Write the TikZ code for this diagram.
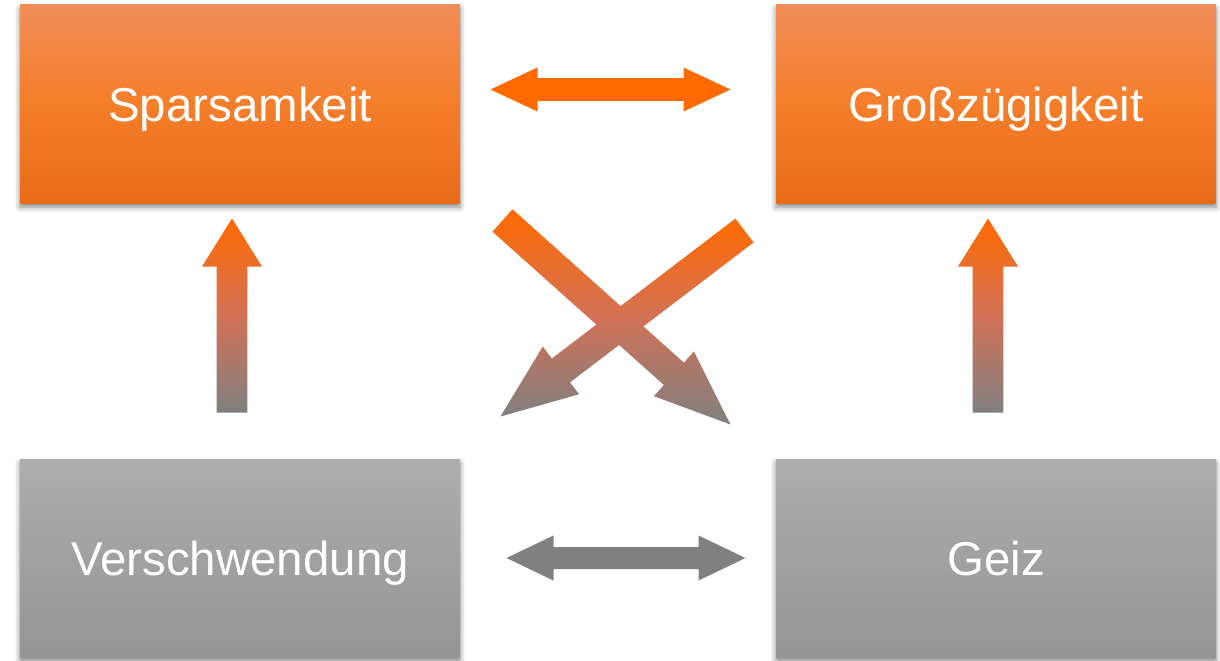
\documentclass[tikz,border=0pt]{standalone}
\usepackage{fontspec}
\setmainfont{Liberation Sans}
\usetikzlibrary{calc,shadows.blur}

\definecolor{arrorange}{RGB}{255,106,0}
\definecolor{arrmid}{RGB}{210,113,86}
\definecolor{arrgray}{RGB}{128,128,128}
\definecolor{boxorangetop}{RGB}{240,141,88}
\definecolor{boxorangemid}{RGB}{245,126,42}
\definecolor{boxorangebot}{RGB}{232,107,24}
\definecolor{boxgraytop}{RGB}{173,173,173}
\definecolor{boxgraybot}{RGB}{149,149,149}

\tikzset{every picture/.style={line width=0.75pt}}
\tikzset{
  termbox/.style={rectangle, inner sep=0pt, minimum width=330pt, minimum height=148.5pt,
    text=white, text depth=0pt, font=\fontsize{35.6}{40}\selectfont,
    blur shadow={shadow xshift=0pt, shadow yshift=-3pt, shadow blur radius=4pt, shadow opacity=50}},
  orangebox/.style={termbox, top color=boxorangetop, bottom color=boxorangebot, middle color=boxorangemid},
  graybox/.style={termbox, top color=boxgraytop, bottom color=boxgraybot},
  flatorange/.style={fill=arrorange},
  flatgray/.style={fill=arrgray},
  fadearrow/.style={top color=arrorange, bottom color=arrgray, middle color=arrmid},
}

% block arrow: style, from, to, shaft half width, head half width, head length
\newcommand\blockarrow[6]{%
  \coordinate (hb) at ($(#3)!#6!(#2)$);
  \path[#1] ($(#2)!#4!90:(#3)$) -- ($(hb)!#4!90:(#3)$) -- ($(hb)!#5!90:(#3)$)
    -- (#3) -- ($(hb)!#5!-90:(#3)$) -- ($(hb)!#4!-90:(#3)$) -- ($(#2)!#4!-90:(#3)$) -- cycle;}
% double block arrow, same arguments
\newcommand\dblarrow[6]{%
  \coordinate (hba) at ($(#2)!#6!(#3)$);
  \coordinate (hbb) at ($(#3)!#6!(#2)$);
  \path[#1] (#2) -- ($(hba)!#5!90:(#3)$) -- ($(hba)!#4!90:(#3)$) -- ($(hbb)!#4!90:(#3)$)
    -- ($(hbb)!#5!90:(#3)$) -- (#3) -- ($(hbb)!#5!-90:(#3)$) -- ($(hbb)!#4!-90:(#3)$)
    -- ($(hba)!#4!-90:(#3)$) -- ($(hba)!#5!-90:(#3)$) -- cycle;}

\begin{document}
\begin{tikzpicture}[x=0.75pt,y=0.75pt,yscale=-1,xscale=1]
\useasboundingbox (0,0) rectangle (1220,660);

%Boxes
\node[orangebox] (spar) at (240,104) {Sparsamkeit};
\node[orangebox] (gross) at (996,104) {Großzügigkeit};
\node[graybox] (versch) at (240,558) {Verschwendung};
\node[graybox] (geiz) at (996,558) {Geiz};

%Arrow ends
\coordinate (topl) at ($(spar.east)+(30,-14.5)$);
\coordinate (topr) at ($(gross.west)+(-45,-14.5)$);
\coordinate (botl) at ($(versch.east)+(46,0)$);
\coordinate (botr) at ($(geiz.west)+(-30,0)$);
\coordinate (vlfrom) at ($(versch.north)+(-8,-46)$);
\coordinate (vlto) at ($(spar.south)+(-8,15)$);
\coordinate (vrfrom) at ($(geiz.north)+(-8,-46)$);
\coordinate (vrto) at ($(gross.south)+(-8,15)$);
\coordinate (dafrom) at ($(spar.south east)+(42,17)$);
\coordinate (dato) at ($(geiz.north west)+(-45,-34)$);
\coordinate (dbfrom) at ($(gross.south west)+(-31,27)$);
\coordinate (dbto) at ($(versch.north east)+(40,-42)$);

%Horizontal arrows
\dblarrow{flatorange}{topl}{topr}{8.5pt}{16.5pt}{35.25pt}
\dblarrow{flatgray}{botl}{botr}{8.25pt}{16.9pt}{35.25pt}
%Vertical arrows
\blockarrow{fadearrow}{vlfrom}{vlto}{11.6pt}{22.5pt}{36pt}
\blockarrow{fadearrow}{vrfrom}{vrto}{11.6pt}{22.5pt}{36pt}
%Crossing arrows
\blockarrow{fadearrow}{dafrom}{dato}{11.25pt}{22.5pt}{57pt}
\blockarrow{fadearrow}{dbfrom}{dbto}{11.25pt}{22.5pt}{57pt}

\end{tikzpicture}
\end{document}
